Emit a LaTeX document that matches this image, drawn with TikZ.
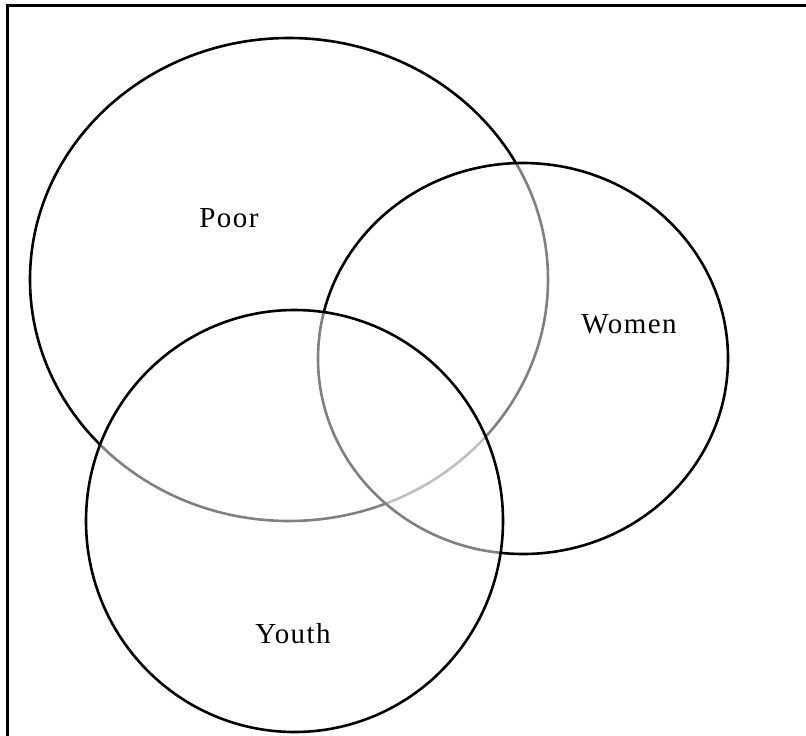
\documentclass[tikz,border=0pt]{standalone}
\usepackage{fontspec}
\setmainfont[LetterSpace=5]{Liberation Serif}
\begin{document}
\begin{tikzpicture}[x=1pt,y=-1pt,
  setshape/.style={draw=black,line width=2.6pt,fill=white,fill opacity=0.5,draw opacity=1},
  setlabel/.style={font=\fontsize{29}{34}\selectfont,text=black,inner sep=0pt},
  frame/.style={line width=3pt,draw=black}]
  \useasboundingbox (0,0) rectangle (806,736);
  % table frame (top rule and left rule)
  \coordinate (tl) at (7,5);
  \coordinate (tr) at (808,5);
  \coordinate (bl) at (7,738);
  \draw[frame] (tr) -- (tl) -- (bl);
  % the three sets, each drawn over the previous one with a half-transparent white fill
  \draw[setshape] (289,279.5) ellipse [x radius=259, y radius=241.5];
  \draw[setshape] (523,358.5) ellipse [x radius=205, y radius=195.5];
  \draw[setshape] (294.5,521) ellipse [x radius=208.5, y radius=211];
  % labels
  \node[setlabel] (poor) at (229,218) {Poor};
  \node[setlabel] (women) at (629,324) {Women};
  \node[setlabel] (youth) at (293,634) {Youth};
\end{tikzpicture}
\end{document}
